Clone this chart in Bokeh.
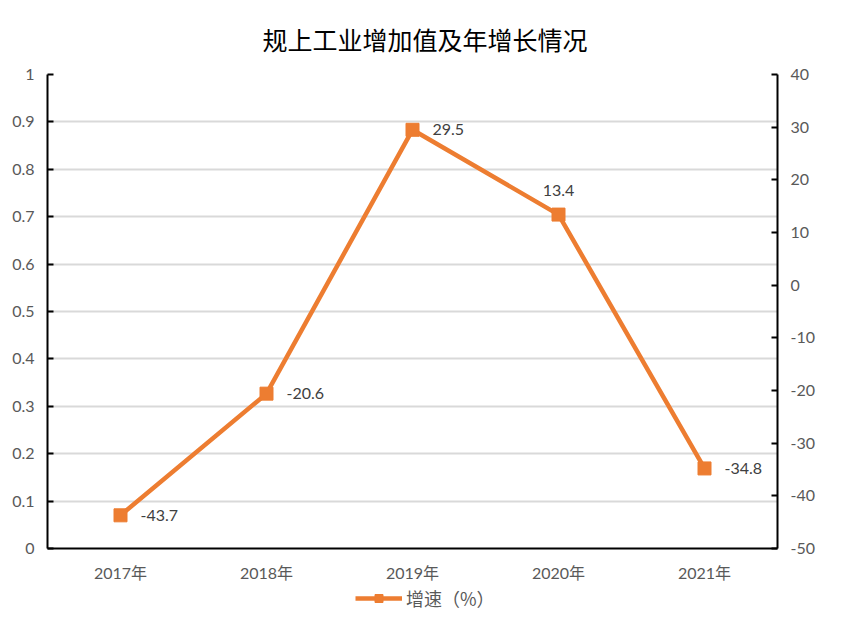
from bokeh.plotting import figure
from bokeh.models import (Range1d, LinearAxis, FixedTicker, Legend, LegendItem,
                          ColumnDataSource, FactorRange)
from bokeh.layouts import column
from bokeh.core.properties import value
from bokeh.embed import file_html
from bokeh.resources import INLINE

# ---- data ----
years = ["2017年", "2018年", "2019年", "2020年", "2021年"]
growth = [-43.7, -20.6, 29.5, 13.4, -34.8]
left_ticks = [0, 0.1, 0.2, 0.3, 0.4, 0.5, 0.6, 0.7, 0.8, 0.9, 1]
left_tick_labels = ["0", "0.1", "0.2", "0.3", "0.4", "0.5", "0.6", "0.7", "0.8", "0.9", "1"]
right_ticks = [-50, -40, -30, -20, -10, 0, 10, 20, 30, 40]
right_tick_labels = ["-50", "-40", "-30", "-20", "-10", "0", "10", "20", "30", "40"]
title_text = "规上工业增加值及年增长情况"
series_name = "增速（%）"

FONT = "Lato, 'Noto Sans CJK SC', sans-serif"
CJK = "'Noto Sans CJK SC', sans-serif"
ORANGE = "#ED7D31"
TICK_COLOR = "#595959"

p = figure(frame_width=730, frame_height=474, output_backend="svg", toolbar_location=None,
           x_range=FactorRange(*years), y_range=Range1d(0, 1),
           min_border_left=47, min_border_right=68, min_border_top=74, min_border_bottom=38)
p.outline_line_color = None

# title
p.title.text = title_text
p.title.align = "left"
p.title.offset = 215
p.title.text_font = CJK
p.title.text_font_size = "25px"
p.title.text_font_style = "normal"
p.title.text_color = "#000000"
p.title.standoff = 35

# left axis
ya = p.yaxis[0]
ya.ticker = FixedTicker(ticks=left_ticks)
ya.major_label_overrides = {t: l for t, l in zip(left_ticks, left_tick_labels)}
ya.axis_line_color = "black"
ya.axis_line_width = 2
ya.major_tick_out = 0
ya.major_tick_in = 6
ya.major_tick_line_color = "black"
ya.major_tick_line_width = 2
ya.minor_tick_line_color = None
ya.major_label_text_font = FONT
ya.major_label_text_font_size = "16px"
ya.major_label_text_color = TICK_COLOR
ya.major_label_standoff = 13

# right axis
p.extra_y_ranges = {"r": Range1d(-50, 40)}
ra = LinearAxis(y_range_name="r")
ra.ticker = FixedTicker(ticks=right_ticks)
ra.major_label_overrides = {t: l for t, l in zip(right_ticks, right_tick_labels)}
ra.axis_line_color = "black"
ra.axis_line_width = 2
ra.major_tick_out = 0
ra.major_tick_in = 6
ra.major_tick_line_color = "black"
ra.major_tick_line_width = 2
ra.minor_tick_line_color = None
ra.major_label_text_font = FONT
ra.major_label_text_font_size = "16px"
ra.major_label_text_color = TICK_COLOR
ra.major_label_standoff = 13
p.add_layout(ra, "right")

# x axis
xa = p.xaxis[0]
xa.axis_line_color = "black"
xa.axis_line_width = 2
xa.major_tick_out = 0
xa.major_tick_in = 0
xa.major_tick_line_color = None
xa.minor_tick_line_color = None
xa.major_label_text_font = FONT
xa.major_label_text_font_size = "16px"
xa.major_label_text_color = TICK_COLOR
xa.major_label_standoff = 14

# grid
p.xgrid.grid_line_color = None
p.ygrid.grid_line_color = "#D9D9D9"
p.ygrid.grid_line_width = 2
p.ygrid.ticker = FixedTicker(ticks=left_ticks)

src = ColumnDataSource(dict(x=years, y=growth))
ln = p.line("x", "y", source=src, y_range_name="r", line_color=ORANGE, line_width=4.5)
mk = p.scatter("x", "y", source=src, y_range_name="r", marker="square", size=13,
               fill_color=ORANGE, line_color=ORANGE)

# data labels: all to the right except the 2020 one, placed above
right_idx = [0, 1, 2, 4]
up_idx = [3]
src_r = ColumnDataSource(dict(x=[years[i] for i in right_idx], y=[growth[i] for i in right_idx],
                              lbl=[f"{growth[i]:.1f}" for i in right_idx]))
src_u = ColumnDataSource(dict(x=[years[i] for i in up_idx], y=[growth[i] for i in up_idx],
                              lbl=[f"{growth[i]:.1f}" for i in up_idx]))
p.text("x", "y", text="lbl", source=src_r, y_range_name="r", x_offset=20,
       text_align="left", text_baseline="middle", text_font=value(FONT),
       text_font_size="16px", text_color="#404040")
p.text("x", "y", text="lbl", source=src_u, y_range_name="r", y_offset=-24,
       text_align="center", text_baseline="middle", text_font=value(FONT),
       text_font_size="16px", text_color="#404040")

# legend strip below the chart: same series drawn out of view, only its legend shows
p2 = figure(width=845, height=39, output_backend="svg", toolbar_location=None,
            x_range=FactorRange(*years), y_range=Range1d(1000, 1001),
            x_axis_location=None, y_axis_location=None,
            min_border=0, min_border_left=0, min_border_right=0,
            min_border_top=0, min_border_bottom=0)
p2.grid.visible = False
p2.outline_line_color = None
ln2 = p2.line("x", "y", source=src, line_color=ORANGE, line_width=4.5)
mk2 = p2.scatter("x", "y", source=src, marker="square", size=13,
                 fill_color=ORANGE, line_color=ORANGE)
legend = Legend(items=[LegendItem(label=series_name, renderers=[ln2, mk2])],
                orientation="horizontal", location=(308, 14),
                border_line_color=None, background_fill_alpha=0,
                label_text_font=CJK, label_text_font_size="18px",
                label_text_color=TICK_COLOR, glyph_width=47, glyph_height=20,
                margin=0, padding=4, label_standoff=4)
p2.add_layout(legend, "center")

layout = column(p, p2, spacing=0)
open("out.html", "w").write(file_html(layout, INLINE))
